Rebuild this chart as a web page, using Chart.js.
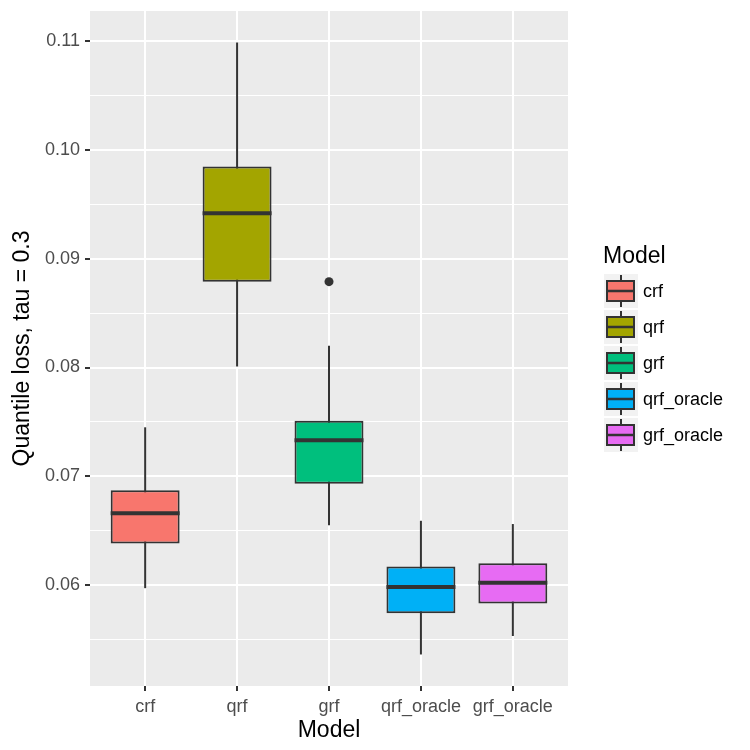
<!DOCTYPE html>
<html>
<head>
<meta charset="utf-8">
<script src="https://cdn.jsdelivr.net/npm/chart.js@4/dist/chart.umd.min.js"></script>
<style>
  html, body { margin: 0; padding: 0; background: #ffffff; }
  #wrap { width: 750px; height: 750px; position: relative; }
</style>
</head>
<body>
<div id="wrap"><canvas id="c" width="750" height="750"></canvas></div>
<script>
// ---- data ----
const categories = ['crf', 'qrf', 'grf', 'qrf_oracle', 'grf_oracle'];
const fillColors = ['#F8766D', '#A3A500', '#00BF7D', '#00B0F6', '#E76BF3'];
const whiskerLow  = [0.0597, 0.0801, 0.0655, 0.0536, 0.0553];
const q1          = [0.0638, 0.0879, 0.0693, 0.0574, 0.0583];
const medians     = [0.0666, 0.0942, 0.0733, 0.0598, 0.0602];
const q3          = [0.0687, 0.0985, 0.0751, 0.0617, 0.0620];
const whiskerHigh = [0.0745, 0.1099, 0.0820, 0.0659, 0.0656];
const outlierCat  = [3];
const outlierVal  = [0.0879];
const yTickValues = [0.055, 0.06, 0.065, 0.07, 0.075, 0.08, 0.085, 0.09, 0.095, 0.10, 0.105, 0.11];
const yMin = 0.0507, yMax = 0.1128;
const legendTitle = 'Model';
const xTitle = 'Model';
const yTitle = 'Quantile loss, tau = 0.3';

const FONT = "'Liberation Sans', Arial, Helvetica, sans-serif";
const isMajor = v => Math.round(v * 1000) % 10 === 0;

const boxData = categories.map((c, i) => ({ x: i + 1, y: [q1[i], q3[i]] }));
const whiskData = categories.map((c, i) => ({ x: i + 1, y: [whiskerLow[i], whiskerHigh[i]] }));
const outData = outlierCat.map((c, i) => ({ x: c, y: outlierVal[i] }));

const panelBg = {
  id: 'panelBg',
  beforeDraw(chart) {
    const { ctx, chartArea: a } = chart;
    ctx.save();
    ctx.fillStyle = '#EBEBEB';
    ctx.fillRect(a.left, a.top, a.right - a.left, a.bottom - a.top);
    ctx.restore();
  }
};

const medianPlugin = {
  id: 'medianLines',
  afterDatasetsDraw(chart) {
    const ctx = chart.ctx;
    const meta = chart.getDatasetMeta(0);
    const ys = chart.scales.y;
    ctx.save();
    ctx.strokeStyle = '#333333';
    ctx.lineWidth = 4;
    meta.data.forEach((bar, i) => {
      const y = ys.getPixelForValue(medians[i]);
      ctx.beginPath();
      ctx.moveTo(bar.x - bar.width / 2, y);
      ctx.lineTo(bar.x + bar.width / 2, y);
      ctx.stroke();
    });
    ctx.restore();
  }
};

const legendPlugin = {
  id: 'ggLegend',
  afterDraw(chart) {
    const ctx = chart.ctx;
    ctx.save();
    ctx.fillStyle = '#000000';
    ctx.font = '23px ' + FONT;
    ctx.textBaseline = 'middle';
    ctx.textAlign = 'left';
    ctx.fillText(legendTitle, 603, 257);
    categories.forEach((c, i) => {
      const yc = 291 + 36 * i;
      ctx.fillStyle = '#F2F2F2';
      ctx.fillRect(604, yc - 17, 34, 34);
      ctx.strokeStyle = '#333333';
      ctx.lineWidth = 2;
      ctx.beginPath();
      ctx.moveTo(621, yc - 16); ctx.lineTo(621, yc - 10);
      ctx.moveTo(621, yc + 10); ctx.lineTo(621, yc + 16);
      ctx.stroke();
      ctx.fillStyle = fillColors[i];
      ctx.fillRect(607, yc - 10, 27, 20);
      ctx.strokeRect(607, yc - 10, 27, 20);
      ctx.lineWidth = 2.5;
      ctx.beginPath();
      ctx.moveTo(607, yc); ctx.lineTo(634, yc);
      ctx.stroke();
      ctx.fillStyle = '#000000';
      ctx.font = '18px ' + FONT;
      ctx.fillText(c, 643, yc + 1);
    });
    ctx.restore();
  }
};

new Chart(document.getElementById('c'), {
  type: 'bar',
  data: {
    datasets: [
      {
        type: 'bar', label: 'box', data: boxData, order: 1,
        backgroundColor: fillColors, borderColor: '#333333', borderWidth: 2,
        borderSkipped: false, grouped: false,
        categoryPercentage: 1.0, barPercentage: 0.75
      },
      {
        type: 'bar', label: 'whisker', data: whiskData, order: 2,
        backgroundColor: '#333333', borderWidth: 0, grouped: false,
        maxBarThickness: 2, categoryPercentage: 1.0, barPercentage: 0.75
      },
      {
        type: 'scatter', label: 'outlier', data: outData, order: 0,
        backgroundColor: '#333333', borderColor: '#333333', borderWidth: 0,
        pointRadius: 4.5, showLine: false
      }
    ]
  },
  options: {
    responsive: false,
    animation: false,
    devicePixelRatio: 1,
    layout: { padding: { top: 11, right: 182, left: 0, bottom: 0 } },
    plugins: { legend: { display: false }, tooltip: { enabled: false } },
    scales: {
      x: {
        type: 'linear', min: 0.4, max: 5.6, offset: false,
        afterBuildTicks: s => { s.ticks = categories.map((c, i) => ({ value: i + 1 })); },
        afterFit: s => { s.height = 64; s.paddingLeft = 0; s.paddingRight = 0; },
        border: { display: false },
        grid: { offset: false, color: '#FFFFFF', lineWidth: 2, tickColor: '#333333', tickLength: 5, tickWidth: 2 },
        ticks: {
          autoSkip: false, maxRotation: 0, padding: 5,
          color: '#4D4D4D', font: { family: FONT, size: 18 },
          callback: v => categories[Math.round(v) - 1]
        },
        title: {
          display: true, text: xTitle, color: '#000000',
          font: { family: FONT, size: 23, lineHeight: 1 },
          padding: { top: 0, bottom: 8 }
        }
      },
      y: {
        type: 'linear', min: yMin, max: yMax,
        afterBuildTicks: s => { s.ticks = yTickValues.map(v => ({ value: v })); },
        afterFit: s => { s.width = 90; s.paddingTop = 0; s.paddingBottom = 0; },
        border: { display: false },
        grid: {
          color: '#FFFFFF',
          lineWidth: ctx => (ctx.tick && isMajor(ctx.tick.value)) ? 2 : 1,
          tickColor: ctx => (ctx.tick && isMajor(ctx.tick.value)) ? '#333333' : 'rgba(0,0,0,0)',
          tickLength: 5, tickWidth: 2
        },
        ticks: {
          autoSkip: false, padding: 5,
          color: '#4D4D4D', font: { family: FONT, size: 18 },
          callback: v => isMajor(v) ? v.toFixed(2) : ''
        },
        title: {
          display: true, text: yTitle, color: '#000000',
          font: { family: FONT, size: 23, lineHeight: 1 },
          padding: { top: 11, bottom: 0 }
        }
      }
    }
  },
  plugins: [panelBg, medianPlugin, legendPlugin]
});
</script>
</body>
</html>
